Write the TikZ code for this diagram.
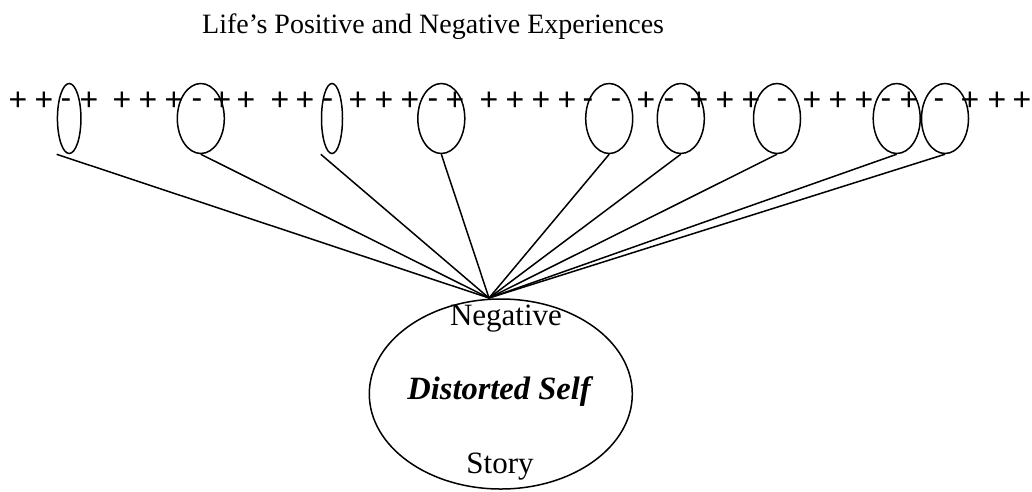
\documentclass[tikz,border=0pt]{standalone}
\usepackage{fontspec}
\setmainfont{Liberation Serif}
\newfontfamily\rowfont{Liberation Sans}
\usetikzlibrary{shapes.geometric}

\begin{document}
\begin{tikzpicture}[x=1pt,y=-1pt,
  event/.style={draw,ellipse,line width=1.5pt,minimum width=#1,minimum height=70pt,inner sep=0pt},
  event/.default=47pt,
  core/.style={draw,ellipse,line width=1.5pt,minimum width=263pt,minimum height=190pt,inner sep=0pt},
  link/.style={line width=1.5pt},
  sign/.style={anchor=base,inner sep=0pt,font=\rowfont\fontsize{32}{36}\selectfont},
  label/.style={anchor=base,inner sep=0pt,font=\fontsize{31}{36}\selectfont},
  heading/.style={anchor=base west,inner sep=0pt,font=\fontsize{28}{32}\selectfont}
]
\useasboundingbox (0,0) rectangle (1032,491);

% heading
\node[heading] (title) at (202,33) {Life’s Positive and Negative Experiences};

% row of experiences
\foreach \x [count=\i] in {18,44,89,122,148,174,222,246,280,305,358,384,410,455,489,515,541,567,646,699,725,751,812,838,864,909,970,997,1022}
  \node[sign] (plus\i) at (\x,110.4) {+};
\foreach \x [count=\i] in {66,197,328,433,588,616,669,782,886,939}
  \node[sign] (minus\i) at (\x,108) {-};

% negative experiences picked out
\node[event=23.5pt] (e1) at (69.2,118.5) {};
\node[event]        (e2) at (200.8,118.5) {};
\node[event=21pt]   (e3) at (332,118.5) {};
\node[event]        (e4) at (441.3,118.5) {};
\node[event]        (e5) at (609.2,118.5) {};
\node[event]        (e6) at (680.8,118.5) {};
\node[event]        (e7) at (777,118.5) {};
\node[event]        (e8) at (896.7,118.5) {};
\node[event]        (e9) at (945,118.5) {};

% the story they feed
\node[core] (story) at (500.8,394) {};
\node[label] (neg) at (506,325) {Negative};
\node[label,font=\fontsize{32.5}{36}\selectfont\bfseries\itshape] (self) at (499,399) {Distorted Self};
\node[label] (sty) at (500,473) {Story};

\coordinate (hub) at (489,298);
\coordinate (s1) at (56.7,154.3);
\coordinate (s3) at (320.8,154.3);

\draw[link] (s1) -- (hub);
\draw[link] (e2.south) -- (hub);
\draw[link] (s3) -- (hub);
\foreach \n in {4,...,9}
  \draw[link] (e\n.south) -- (hub);
\end{tikzpicture}
\end{document}
